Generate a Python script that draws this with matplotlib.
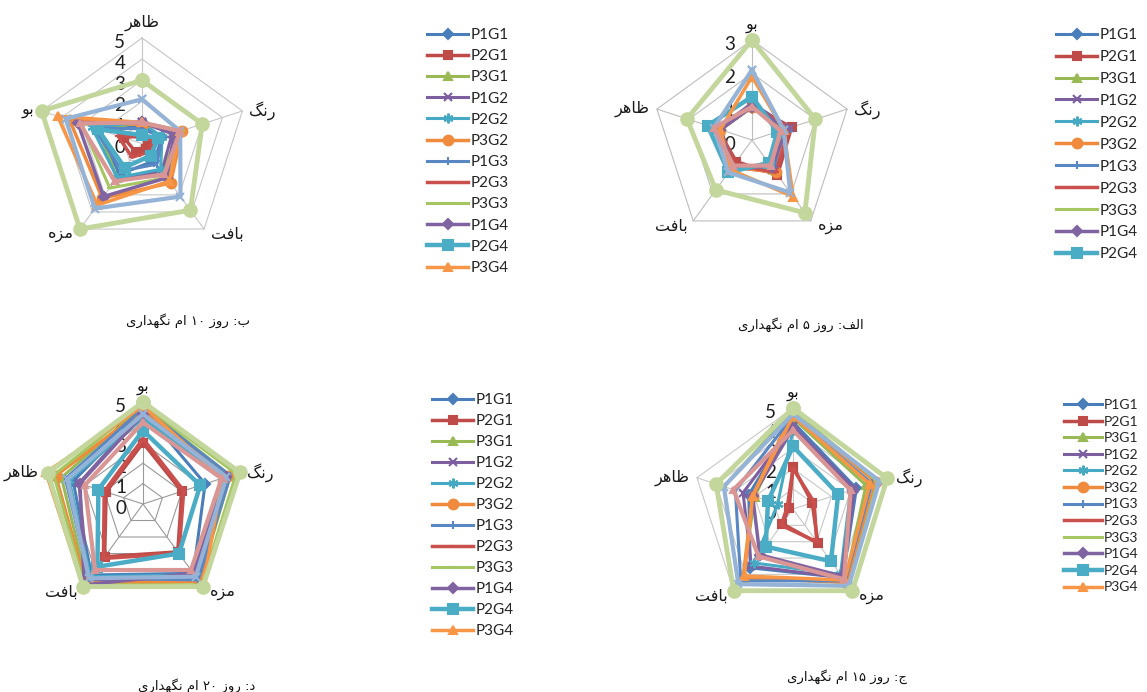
import matplotlib
matplotlib.use('Agg')
import matplotlib.pyplot as plt
import numpy as np

plt.rcParams['font.family'] = ['Lato', 'DejaVu Sans']

W, H = 1147, 692

# --- data ---------------------------------------------------------------
series_names = ['P1G1', 'P2G1', 'P3G1', 'P1G2', 'P2G2', 'P3G2',
                'P1G3', 'P2G3', 'P3G3', 'P1G4', 'P2G4', 'P3G4']
# the charts also hold three more series that the legends cut off

axes_day10 = ['ظاهر', 'رنگ', 'بافت', 'مزه', 'بو']
axes_other = ['بو', 'رنگ', 'مزه', 'بافت', 'ظاهر']

day5 = [
    [1.0, 1.0, 1.0, 1.0, 1.0],
    [1.0, 1.25, 1.3, 0.8, 1.1],
    [1.0, 1.0, 1.1, 1.0, 1.0],
    [1.1, 1.2, 1.2, 1.0, 1.1],
    [1.0, 1.1, 1.0, 1.0, 1.1],
    [1.0, 1.0, 1.2, 1.0, 1.0],
    [1.0, 1.0, 1.1, 1.0, 1.0],
    [1.0, 1.2, 1.2, 0.9, 1.0],
    [1.0, 1.0, 1.0, 1.0, 1.0],
    [1.0, 1.1, 1.0, 1.0, 1.0],
    [1.3, 0.8, 0.85, 1.2, 1.4],
    [1.9, 1.0, 2.1, 1.1, 1.0],
    [2.1, 1.0, 1.95, 1.2, 1.2],
    [1.0, 0.9, 0.95, 0.95, 1.2],
    [3.0, 2.0, 2.7, 1.85, 2.05],
]

day10 = [
    [0.8, 1.0, 1.0, 1.8, 2.2],
    [0.4, 0.3, 0.3, 0.5, 0.9],
    [1.0, 1.9, 1.6, 2.0, 2.2],
    [1.0, 1.5, 1.6, 2.2, 3.1],
    [1.0, 1.0, 1.5, 2.0, 2.5],
    [0.9, 2.0, 2.3, 3.2, 3.6],
    [0.7, 1.0, 1.2, 1.6, 2.4],
    [0.3, 0.6, 0.5, 0.8, 1.2],
    [1.0, 2.0, 2.0, 2.6, 3.0],
    [1.0, 1.6, 2.0, 3.1, 3.2],
    [0.4, 0.8, 0.7, 1.4, 2.2],
    [1.0, 1.9, 2.2, 3.6, 4.2],
    [2.1, 1.9, 3.1, 3.8, 3.8],
    [1.0, 1.9, 1.8, 2.2, 3.1],
    [3.0, 3.0, 3.9, 5.0, 5.0],
]

day15 = [
    [4.3, 3.3, 4.2, 3.6, 2.3],
    [2.1, 1.0, 2.1, 0.9, 0.2],
    [4.5, 3.8, 4.4, 4.2, 2.0],
    [4.1, 3.2, 4.2, 3.5, 2.6],
    [3.9, 3.0, 4.0, 3.3, 0.8],
    [4.8, 4.3, 4.5, 4.2, 2.1],
    [4.6, 4.1, 4.4, 4.4, 3.0],
    [2.0, 1.1, 2.0, 1.0, 0.3],
    [4.9, 4.4, 4.7, 4.6, 3.6],
    [4.0, 3.1, 4.1, 2.8, 2.1],
    [3.1, 2.35, 3.2, 2.3, 1.3],
    [4.6, 4.0, 4.35, 4.1, 2.1],
    [4.7, 4.5, 4.7, 4.6, 3.6],
    [3.9, 3.0, 4.3, 2.9, 3.1],
    [5.0, 4.9, 5.0, 5.0, 4.0],
]

day20 = [
    [4.6, 3.2, 4.2, 4.3, 3.6],
    [3.0, 2.0, 2.9, 3.2, 1.9],
    [4.8, 4.5, 4.7, 4.7, 4.2],
    [4.5, 4.4, 4.5, 4.6, 3.3],
    [4.2, 4.1, 4.3, 4.4, 3.8],
    [4.6, 4.4, 4.7, 4.8, 4.5],
    [4.7, 4.5, 4.6, 4.5, 4.0],
    [3.2, 2.1, 3.0, 3.3, 2.0],
    [4.9, 4.8, 4.9, 4.9, 4.6],
    [4.4, 4.3, 4.2, 4.9, 3.25],
    [3.6, 2.95, 3.0, 3.8, 2.3],
    [4.8, 4.1, 5.0, 5.0, 5.0],
    [4.4, 4.3, 4.4, 4.5, 3.9],
    [4.0, 4.05, 4.0, 4.0, 3.0],
    [5.0, 5.0, 5.0, 5.0, 4.9],
]

captions = ['الف: روز ۵ ام نگهداری', 'ب: روز ۱۰ ام نگهداری',
            'ج: روز ۱۵ ام نگهداری', 'د: روز ۲۰ ام نگهداری']

# --- styles -------------------------------------------------------------
colors = ['#4A7EBB', '#BE4B48', '#98B954', '#7D5FA0', '#46AAC4', '#F08A3C',
          '#5887C4', '#C9504D', '#A5C660', '#8064A2', '#4BACC6', '#F79646',
          '#95B3D7', '#D99694', '#C3D69B']
markers = ['D', 's', '^', 'x', (6, 2, 0), 'o', '|', '_', '_', 'D', 's', '^',
           'x', '^', 'o']
msizes = [5, 6, 6, 6, 7, 7, 6, 5, 5, 5, 7, 6, 6, 5, 9]
lwidths = [2.2, 2.5, 2.2, 2.2, 2.2, 2.5, 2.2, 2.5, 2.2, 2.5, 3.2, 2.5,
           3.0, 3.0, 3.5]

# --- persian text (shaped into presentation forms, visual order) -------
FORMS = {
    'ا': ('\uFE8D', '\uFE8E', None, None),
    'ب': ('\uFE8F', '\uFE90', '\uFE91', '\uFE92'),
    'ت': ('\uFE95', '\uFE96', '\uFE97', '\uFE98'),
    'ج': ('\uFE9D', '\uFE9E', '\uFE9F', '\uFEA0'),
    'د': ('\uFEA9', '\uFEAA', None, None),
    'ر': ('\uFEAD', '\uFEAE', None, None),
    'ز': ('\uFEAF', '\uFEB0', None, None),
    'ظ': ('\uFEC5', '\uFEC6', '\uFEC7', '\uFEC8'),
    'ف': ('\uFED1', '\uFED2', '\uFED3', '\uFED4'),
    'ل': ('\uFEDD', '\uFEDE', '\uFEDF', '\uFEE0'),
    'م': ('\uFEE1', '\uFEE2', '\uFEE3', '\uFEE4'),
    'ن': ('\uFEE5', '\uFEE6', '\uFEE7', '\uFEE8'),
    'ه': ('\uFEE9', '\uFEEA', '\uFEEB', '\uFEEC'),
    'و': ('\uFEED', '\uFEEE', None, None),
    'ی': ('\uFBFC', '\uFBFD', '\uFBFE', '\uFBFF'),
    'گ': ('\uFB92', '\uFB93', '\uFB94', '\uFB95'),
}
DIGITS = '۰۱۲۳۴۵۶۷۸۹0123456789'


def persian(text):
    words = []
    for word in text.split(' '):
        if all(ch in DIGITS for ch in word):
            words.append(word)
            continue
        out = []
        for i, ch in enumerate(word):
            f = FORMS.get(ch)
            if f is None:
                out.append(ch)
                continue
            prev = word[i - 1] if i > 0 else ''
            nxt = word[i + 1] if i + 1 < len(word) else ''
            jp = prev in FORMS and FORMS[prev][2] is not None
            jn = f[2] is not None and nxt in FORMS
            if jp and jn:
                out.append(f[3])
            elif jp:
                out.append(f[1])
            elif jn:
                out.append(f[2])
            else:
                out.append(f[0])
        words.append(''.join(reversed(out)))
    return ' '.join(reversed(words))


fig = plt.figure(figsize=(W / 100, H / 100), dpi=100)
fig.patch.set_facecolor('white')

angles = np.deg2rad(90 - 72 * np.arange(5))
label_pos = [(0, 5, 'center', 'bottom'), (5, 0, 'left', 'center'),
             (5, -4, 'left', 'center'), (-4, -4, 'right', 'center'),
             (-5, 0, 'right', 'center')]


def radar(cx, cy, R, labels, values, vmax, grid_color, legend_xy, n_leg,
          leg_size, leg_space, caption, cap_xy):
    L = 1.6 * R
    ax = fig.add_axes([(cx - L) / W, 1 - (cy + L) / H, 2 * L / W, 2 * L / H])
    ax.set_xlim(-1.6, 1.6)
    ax.set_ylim(-1.6, 1.6)
    ax.axis('off')

    cosa, sina = np.cos(angles), np.sin(angles)
    for k in range(1, vmax + 1):
        r = k / vmax
        ax.plot(np.append(r * cosa, r * cosa[0]), np.append(r * sina, r * sina[0]),
                color=grid_color, lw=0.8, zorder=1)
    for a in range(5):
        ax.plot([0, cosa[a]], [0, sina[a]], color=grid_color, lw=0.8, zorder=1)

    for k in range(vmax + 1):
        ax.annotate(str(k), (0, k / vmax), xytext=(-12, -3), textcoords='offset points',
                    ha='right', va='center', fontsize=13.5, color='#1f1f1f', zorder=2)

    for a, (dx, dy, ha, va) in enumerate(label_pos):
        ax.annotate(persian(labels[a]), (cosa[a], sina[a]), xytext=(dx, dy),
                    textcoords='offset points', ha=ha, va=va, fontsize=11.5,
                    family='DejaVu Sans', color='#1a1a1a', zorder=5)

    handles = []
    for s, vals in enumerate(values):
        r = np.array(vals) / vmax
        x = np.append(r * cosa, r[0] * cosa[0])
        y = np.append(r * sina, r[0] * sina[0])
        h, = ax.plot(x, y, color=colors[s], lw=lwidths[s], marker=markers[s],
                     ms=msizes[s], mec=colors[s], mew=1.5, zorder=3 + s * 0.01,
                     clip_on=False, solid_joinstyle='round')
        handles.append(h)

    fig.legend(handles[:n_leg], series_names[:n_leg], loc='upper left',
               bbox_to_anchor=(legend_xy[0] / W, 1 - legend_xy[1] / H),
               frameon=False, fontsize=leg_size, handlelength=2.7,
               handletextpad=0.15, labelspacing=leg_space, borderpad=0,
               borderaxespad=0, labelcolor='#262626')

    fig.text(cap_xy[0] / W, 1 - cap_xy[1] / H, persian(caption), ha='center',
             va='center', fontsize=9.5, family='DejaVu Sans', color='#111111')


radar(142, 143.6, 105.6, axes_day10, day10, 5, '#C6C6C6', (427, 28), 12,
      11, 0.47, captions[1], (188, 321))
radar(752, 140, 100, axes_other, day5, 3, '#BDBDBD', (1056, 28), 11,
      11, 0.52, captions[0], (801, 325))
radar(143, 504, 102, axes_other, day20, 5, '#9A9A9A', (432, 393), 12,
      11, 0.46, captions[3], (197, 686))
radar(793, 509, 101, axes_other, day15, 5, '#C8C8C8', (1064, 399), 12,
      10, 0.33, captions[2], (847, 677))

fig.savefig('out.png', dpi=100, facecolor='white')
